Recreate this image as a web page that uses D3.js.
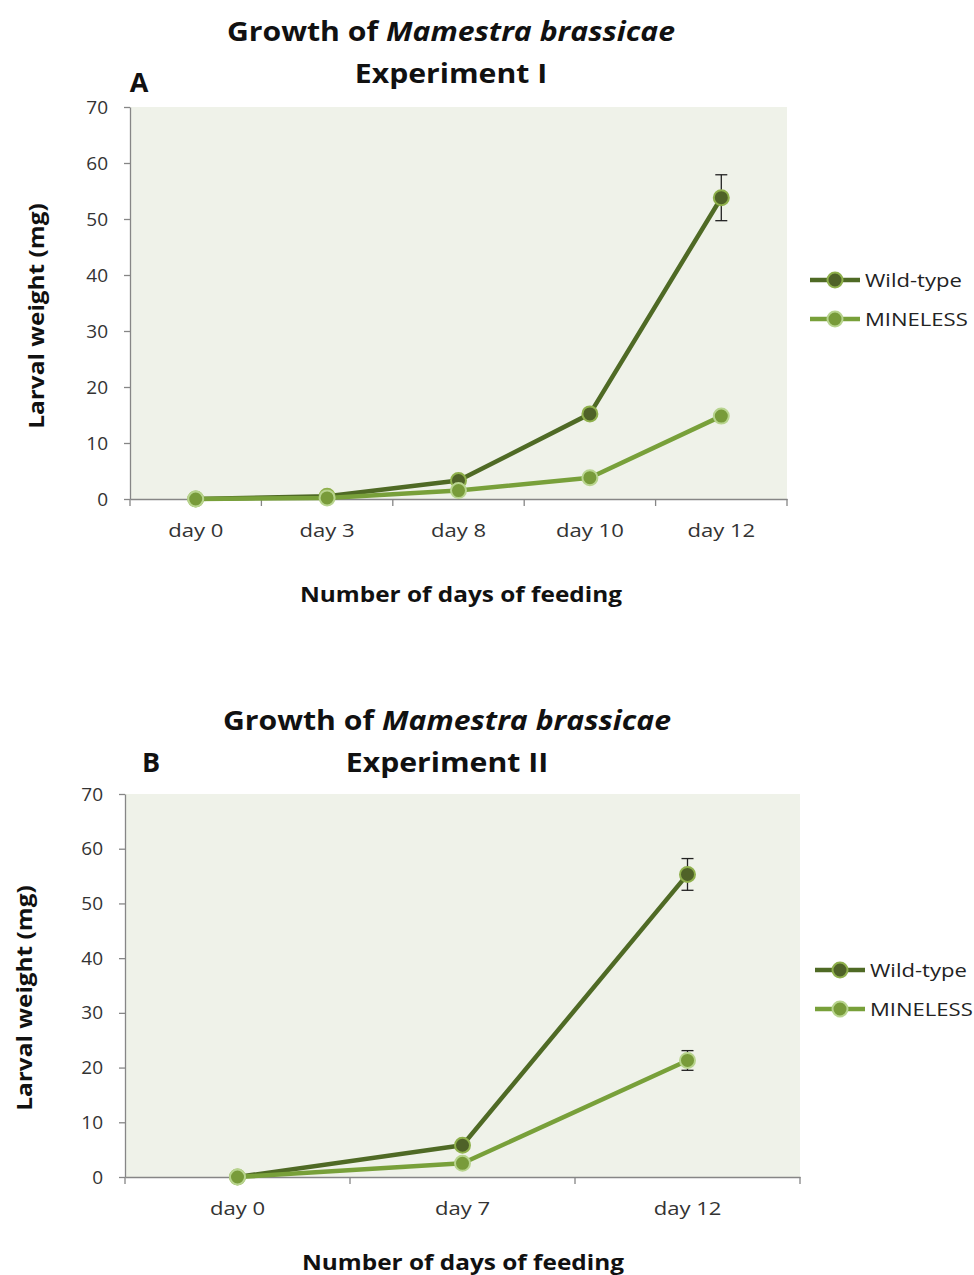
<!DOCTYPE html>
<html><head><meta charset="utf-8">
<script src="https://cdn.jsdelivr.net/npm/d3@7"></script>
<style>body{margin:0;background:#fff;} svg{display:block;}</style>
</head><body>
<svg id="chart" width="974" height="1275"></svg>
<script>
// Panel A data
const daysA = ["day 0", "day 3", "day 8", "day 10", "day 12"];
const wildA = [0, 0.5, 3.3, 15.2, 53.8];
const wildErrA = [0, 0, 0, 0, 4.1];
const mineA = [0, 0.2, 1.5, 3.8, 14.8];
const mineErrA = [0, 0, 0, 0, 0];
// Panel B data
const daysB = ["day 0", "day 7", "day 12"];
const wildB = [0, 5.8, 55.3];
const wildErrB = [0, 0, 2.9];
const mineB = [0, 2.5, 21.3];
const mineErrB = [0, 0, 1.8];
const yTicks = [0, 10, 20, 30, 40, 50, 60, 70];
const seriesNames = ["Wild-type", "MINELESS"];

const FONT = "'Open Sans', Lato, sans-serif";
const colors = {
  wild: {line: "#4f6a25", fill: "#4f6228", stroke: "#8fb04c"},
  mine: {line: "#78a03a", fill: "#789b3a", stroke: "#b8d48e"}
};
const svg = d3.select("#chart");

function panel(o) {
  const g = svg.append("g");
  const x = d3.scaleBand().domain(o.days).range([o.left, o.right]);
  const y = d3.scaleLinear().domain([0, 70]).range([o.bottom, o.top]);
  g.append("rect").attr("x", o.left).attr("y", o.top)
    .attr("width", o.right - o.left).attr("height", o.bottom - o.top).attr("fill", "#eff2e9");
  const ya = g.append("g").attr("transform", `translate(${o.left},0)`)
    .call(d3.axisLeft(y).tickValues(yTicks).tickSize(6).tickSizeOuter(0).tickPadding(16));
  const xa = g.append("g").attr("transform", `translate(0,${o.bottom})`)
    .call(d3.axisBottom(x).tickSize(0).tickPadding(25));
  [ya, xa].forEach(a => {
    a.select(".domain").attr("stroke", "#868686").attr("stroke-width", 1.3);
    a.selectAll("line").attr("stroke", "#868686").attr("stroke-width", 1.3);
    a.selectAll("text").attr("font-family", FONT).attr("font-size", 19).attr("fill", "#333");
  });
  xa.selectAll("text").classed("stretch", true);
  // x boundary ticks
  const bounds = o.days.map(d => x(d)).concat([o.right]);
  g.selectAll(".xt").data(bounds).join("line")
    .attr("x1", d => d).attr("x2", d => d).attr("y1", o.bottom).attr("y2", o.bottom + 7)
    .attr("stroke", "#868686").attr("stroke-width", 1.3);
  const cx = d => x(d) + x.bandwidth() / 2;
  const sets = [
    {vals: o.mine, err: o.mineErr, c: colors.mine},
    {vals: o.wild, err: o.wildErr, c: colors.wild}
  ];
  // lines
  [sets[1], sets[0]].forEach(s => {
    const line = d3.line().x((d, i) => cx(o.days[i])).y(d => y(d));
    g.append("path").datum(s.vals).attr("d", line).attr("fill", "none")
      .attr("stroke", s.c.line).attr("stroke-width", 4.5).attr("stroke-linejoin", "round");
  });
  // error bars
  sets.forEach(s => {
    s.vals.forEach((v, i) => {
      if (!s.err[i]) return;
      const xx = cx(o.days[i]);
      const y1 = y(v + s.err[i]), y2 = y(v - s.err[i]);
      g.append("line").attr("x1", xx).attr("x2", xx).attr("y1", y1).attr("y2", y2).attr("stroke", "#222").attr("stroke-width", 1.3);
      [y1, y2].forEach(yy => g.append("line").attr("x1", xx - 6).attr("x2", xx + 6).attr("y1", yy).attr("y2", yy).attr("stroke", "#222").attr("stroke-width", 1.3));
    });
  });
  // markers
  [sets[1], sets[0]].forEach(s => {
    g.selectAll(null).data(s.vals).join("circle")
      .attr("cx", (d, i) => cx(o.days[i])).attr("cy", d => y(d)).attr("r", 7.5)
      .attr("fill", s.c.fill).attr("stroke", s.c.stroke).attr("stroke-width", 2);
  });
  // titles
  const t = g.append("text").attr("class", "stretch").attr("x", o.titleX).attr("y", o.titleY).attr("text-anchor", "middle")
    .attr("font-family", FONT).attr("font-weight", "bold").attr("font-size", 26).attr("fill", "#111");
  t.append("tspan").text("Growth of ");
  t.append("tspan").attr("font-style", "italic").text("Mamestra brassicae");
  g.append("text").attr("class", "stretch").attr("x", o.titleX).attr("y", o.titleY + 42).attr("text-anchor", "middle")
    .attr("font-family", FONT).attr("font-weight", "bold").attr("font-size", 26).attr("fill", "#111").text(o.exp);
  g.append("text").attr("x", o.letterX).attr("y", o.letterY).attr("text-anchor", "middle")
    .attr("font-family", FONT).attr("font-weight", "bold").attr("font-size", 27).attr("fill", "#111").text(o.letter);
  // axis titles
  g.append("text").attr("class", "stretch").attr("transform", `translate(${o.yLabelX},${o.yLabelY}) rotate(-90)`)
    .attr("text-anchor", "middle").attr("font-family", FONT).attr("font-weight", "bold").attr("font-size", 21).attr("fill", "#111")
    .text("Larval weight (mg)");
  g.append("text").attr("class", "stretch").attr("x", o.xLabelX).attr("y", o.xLabelY).attr("text-anchor", "middle")
    .attr("font-family", FONT).attr("font-weight", "bold").attr("font-size", 21).attr("fill", "#111")
    .text("Number of days of feeding");
  // legend
  const leg = [{n: seriesNames[0], c: colors.wild}, {n: seriesNames[1], c: colors.mine}];
  leg.forEach((l, i) => {
    const ly = o.legY + i * 39;
    g.append("line").attr("x1", o.legX).attr("x2", o.legX + 50).attr("y1", ly).attr("y2", ly)
      .attr("stroke", l.c.line).attr("stroke-width", 4.5);
    g.append("circle").attr("cx", o.legX + 25).attr("cy", ly).attr("r", 7.5)
      .attr("fill", l.c.fill).attr("stroke", l.c.stroke).attr("stroke-width", 2);
    g.append("text").attr("class", "stretch").attr("x", o.legX + 55).attr("y", ly).attr("dy", "0.35em")
      .attr("font-family", FONT).attr("font-size", 19).attr("fill", "#222").text(l.n);
  });
}

panel({days: daysA, wild: wildA, wildErr: wildErrA, mine: mineA, mineErr: mineErrA,
  left: 130, right: 787, top: 107, bottom: 499,
  titleX: 451, titleY: 41, exp: "Experiment I", letter: "A", letterX: 139, letterY: 92,
  yLabelX: 44, yLabelY: 316, xLabelX: 461, xLabelY: 602, legX: 810, legY: 280});
panel({days: daysB, wild: wildB, wildErr: wildErrB, mine: mineB, mineErr: mineErrB,
  left: 125, right: 800, top: 794, bottom: 1177,
  titleX: 447, titleY: 730, exp: "Experiment II", letter: "B", letterX: 151, letterY: 772,
  yLabelX: 32, yLabelY: 998, xLabelX: 463, xLabelY: 1270, legX: 815, legY: 970});

// widen text to match the reference's broader letterforms
svg.selectAll("text.stretch").each(function () {
  const len = this.getComputedTextLength();
  d3.select(this).attr("textLength", len * 1.16).attr("lengthAdjust", "spacingAndGlyphs");
});
</script>
</body></html>
